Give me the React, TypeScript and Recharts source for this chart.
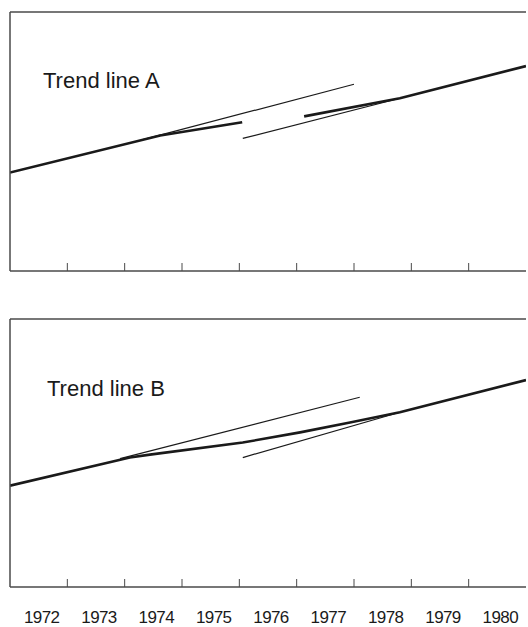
import { LineChart, Line, XAxis, YAxis } from 'recharts';

// years on the time axis; ticks sit on year boundaries, labels in the middle of each year
const years = [1972, 1973, 1974, 1975, 1976, 1977, 1978, 1979, 1980];
const yearEdges = [1973, 1974, 1975, 1976, 1977, 1978, 1979, 1980];
const yearMids = years.map((y) => y + 0.5);
const yearRows = yearMids.map((m) => ({ mid: m }));

type Pt = { x: number; y: number };

// Trend line A (index units)
const aTrend: Pt[] = [
  { x: 1972.0, y: 38.0 },
  { x: 1974.62, y: 52.3 },
  { x: 1976.05, y: 57.4 },
];
const aOldProjection: Pt[] = [
  { x: 1974.3, y: 50.6 },
  { x: 1978.0, y: 72.1 },
];
const aNewProjection: Pt[] = [
  { x: 1976.06, y: 51.2 },
  { x: 1978.8, y: 66.7 },
];
const aResumed: Pt[] = [
  { x: 1977.13, y: 59.7 },
  { x: 1978.8, y: 66.7 },
  { x: 1981.0, y: 79.1 },
];

// Trend line B
const bTrend: Pt[] = [
  { x: 1972.0, y: 37.8 },
  { x: 1974.09, y: 48.3 },
  { x: 1974.44, y: 49.4 },
  { x: 1976.06, y: 53.9 },
  { x: 1977.06, y: 57.7 },
  { x: 1977.93, y: 61.4 },
  { x: 1978.8, y: 65.2 },
  { x: 1981.0, y: 77.2 },
];
const bOldProjection: Pt[] = [
  { x: 1973.92, y: 47.9 },
  { x: 1978.1, y: 70.8 },
];
const bNewProjection: Pt[] = [
  { x: 1976.06, y: 48.3 },
  { x: 1978.8, y: 65.2 },
];

const INK = '#1a1a1a';
const FRAME = '#4a4a4a';
const FONT = '"Liberation Sans", Arial, sans-serif';

function thick(data: Pt[], key: string) {
  return (
    <Line
      key={key}
      data={data}
      dataKey="y"
      xAxisId="main"
      type="linear"
      stroke={INK}
      strokeWidth={2.6}
      dot={false}
      isAnimationActive={false}
    />
  );
}

function thin(data: Pt[], key: string) {
  return (
    <Line
      key={key}
      data={data}
      dataKey="y"
      xAxisId="main"
      type="linear"
      stroke={INK}
      strokeWidth={1.2}
      dot={false}
      isAnimationActive={false}
    />
  );
}

// frame: bottom line with inward ticks, top line, left line (axes of height/width 0 are not drawn, so 1)
function frameAxes() {
  return [
    <XAxis
      key="ticks"
      xAxisId="main"
      dataKey="x"
      type="number"
      domain={[1972, 1981]}
      ticks={yearEdges}
      tickFormatter={() => ''}
      mirror
      tickSize={8}
      height={1}
      axisLine={{ stroke: FRAME, strokeWidth: 1.5 }}
      tickLine={{ stroke: FRAME, strokeWidth: 1 }}
      interval={0}
      allowDataOverflow
    />,
    <XAxis
      key="top"
      xAxisId="top"
      orientation="top"
      type="number"
      domain={[1972, 1981]}
      tick={false}
      tickLine={false}
      height={1}
      axisLine={{ stroke: FRAME, strokeWidth: 1.5 }}
    />,
    <YAxis
      key="y"
      type="number"
      domain={[0, 100]}
      tick={false}
      tickLine={false}
      width={1}
      axisLine={{ stroke: FRAME, strokeWidth: 1.5 }}
    />,
  ];
}

const labelStyle = {
  position: 'absolute' as const,
  fontFamily: FONT,
  fontSize: 22,
  lineHeight: '22px',
  color: '#1a1a1a',
  whiteSpace: 'nowrap' as const,
};

export default function App() {
  return (
    <div style={{ position: 'absolute', left: 0, top: 0, width: 528, height: 627, background: '#fff' }}>
      <div style={{ position: 'absolute', left: 0, top: 0 }}>
        <LineChart width={528} height={280} margin={{ top: 11, right: 2, bottom: 9, left: 9 }}>
          {frameAxes()}
          {thin(aOldProjection, 'a-old')}
          {thin(aNewProjection, 'a-new')}
          {thick(aTrend, 'a-trend')}
          {thick(aResumed, 'a-resumed')}
        </LineChart>
        <div style={{ ...labelStyle, left: 43, top: 70 }}>Trend line A</div>
      </div>
      <div style={{ position: 'absolute', left: 0, top: 280 }}>
        <LineChart
          width={528}
          height={347}
          data={yearRows}
          margin={{ top: 38, right: 2, bottom: 0, left: 9 }}
        >
          {frameAxes()}
          <XAxis
            xAxisId="labels"
            dataKey="mid"
            type="number"
            domain={[1972, 1981]}
            ticks={yearMids}
            tickFormatter={(v: number) => String(Math.floor(v))}
            tick={{ fontSize: 17, fill: '#1a1a1a', fontFamily: FONT, letterSpacing: -0.6, dx: 3 }}
            tickLine={false}
            axisLine={false}
            tickSize={0}
            tickMargin={24}
            height={40}
            interval={0}
          />
          {thin(bOldProjection, 'b-old')}
          {thin(bNewProjection, 'b-new')}
          {thick(bTrend, 'b-trend')}
        </LineChart>
        <div style={{ ...labelStyle, left: 47, top: 378 - 280 }}>Trend line B</div>
      </div>
    </div>
  );
}
